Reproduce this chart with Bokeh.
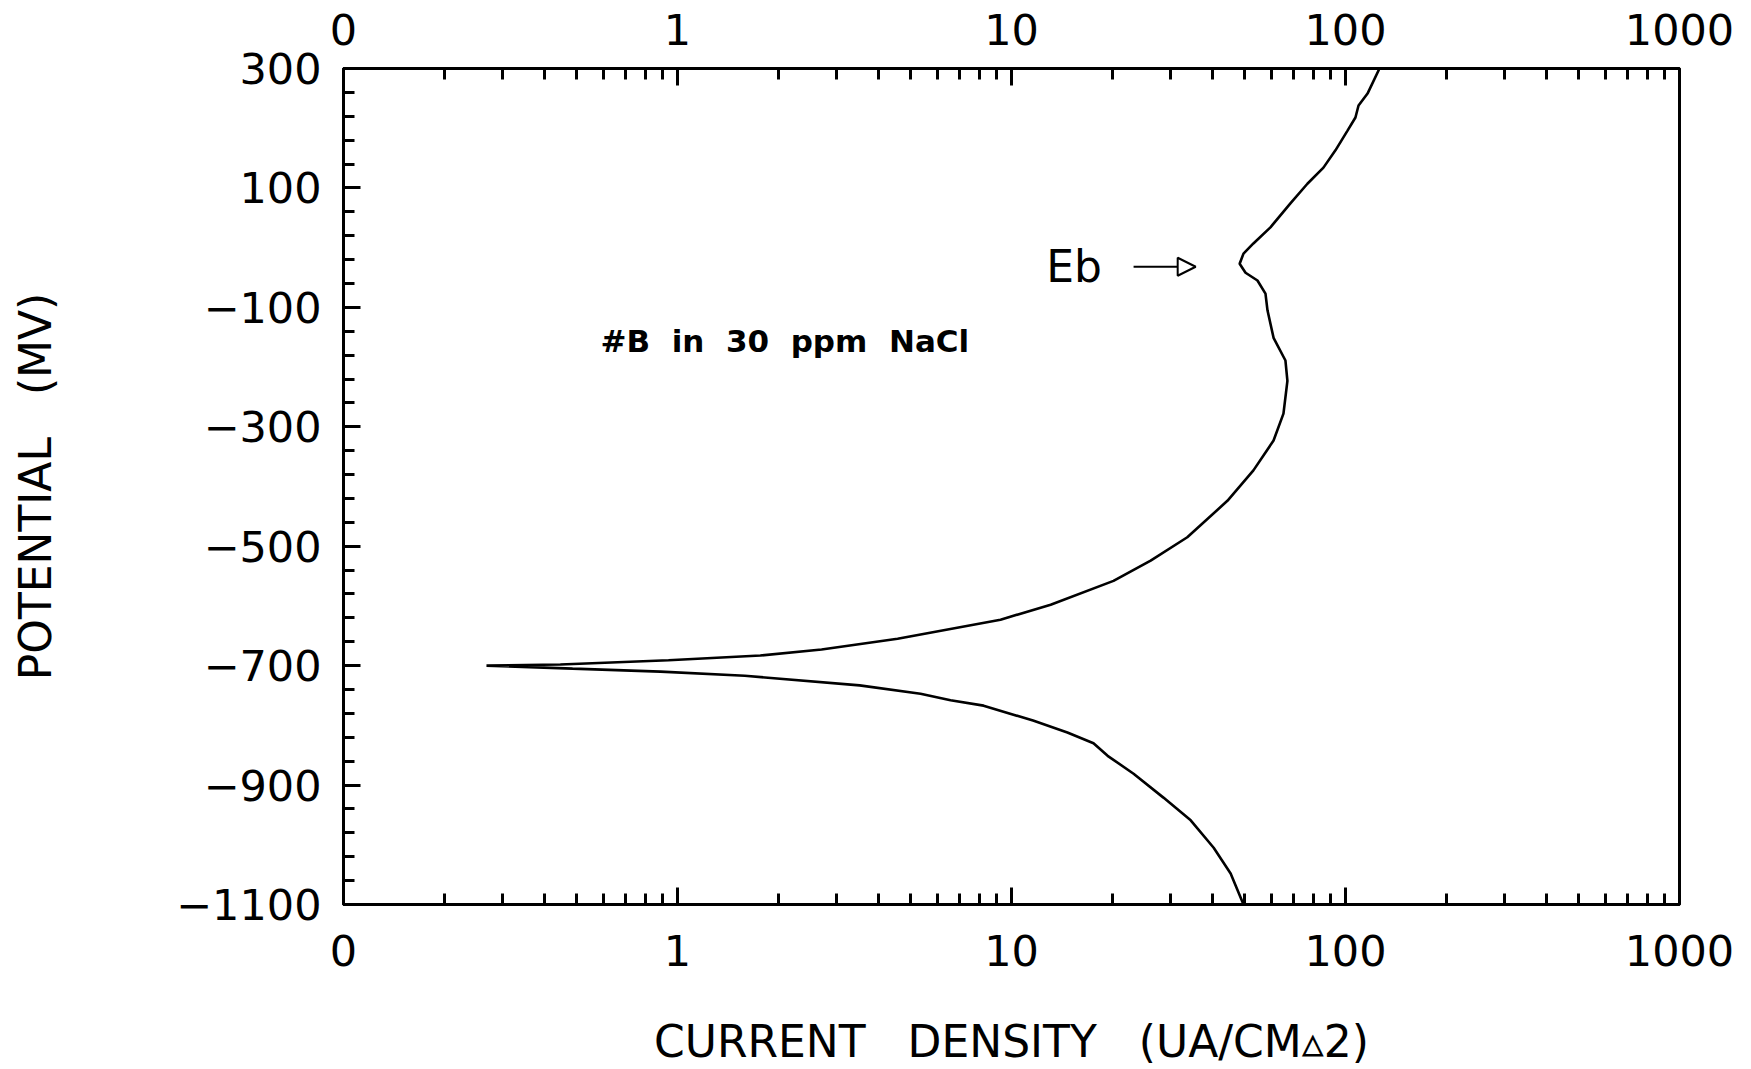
from bokeh.plotting import figure
from bokeh.models import FixedTicker, LogAxis, Label, Arrow, NormalHead, Range1d
from bokeh.embed import file_html
from bokeh.resources import INLINE

# Polarization scan: potential (mV) vs current density (uA/cm^2), cathodic end first
potential_mv = [
    -1100, -1048, -1005, -959, -921, -881, -851, -830, -812, -792, -767, -758,
    -747, -733, -717, -710, -705, -700,
    -698, -691, -683, -673, -655, -623, -598, -558, -524, -485, -424, -373,
    -323, -278, -223, -189, -151, -105, -77, -55, -42, -27, -10, 7, 34, 74,
    107, 134, 163, 196, 218, 238, 258, 300,
]
current_density = [
    49.5, 45.3, 40.3, 34.4, 28.5, 23.2, 19.4, 17.6, 14.7, 11.6, 8.25, 6.57,
    5.34, 3.51, 1.59, 0.889, 0.485, 0.268,
    0.446, 0.94, 1.77, 2.70, 4.56, 9.27, 13.1, 20.2, 26.1, 33.6, 44.3, 53.0,
    60.9, 65.2, 67.0, 66.1, 60.9, 58.4, 57.6, 54.5, 50.2, 48.2, 49.5, 53.0,
    59.6, 68.4, 76.9, 85.9, 93.3, 101.4, 107.1, 109.4, 116.4, 126.4,
]

x_ticks = [0.1, 1, 10, 100, 1000]
x_tick_labels = ["0", "1", "10", "100", "1000"]
y_ticks = [-1100, -900, -700, -500, -300, -100, 100, 300]
y_tick_labels = ["\u22121100", "\u2212900", "\u2212700", "\u2212500",
                 "\u2212300", "\u2212100", "100", "300"]

x_minor = [m * 10.0 ** d for d in (-1, 0, 1, 2) for m in range(2, 10)]
y_minor = list(range(-1100, 301, 40))

FONT = "DejaVu Sans"
GAP3 = "\u00a0\u00a0\u00a0"
GAP2 = "\u00a0\u00a0"

p = figure(
    width=1751, height=1069,
    x_axis_type="log",
    x_range=Range1d(0.1, 1000), y_range=Range1d(-1100, 300),
    output_backend="svg", toolbar_location=None,
    min_border_left=343, min_border_right=72,
    min_border_top=68, min_border_bottom=165,
)
p.background_fill_color = "white"
p.border_fill_color = "white"
p.outline_line_color = "black"
p.outline_line_width = 3
p.xgrid.visible = False
p.ygrid.visible = False


def style_axis(ax, ticks, minor, labels, standoff):
    ax.ticker = FixedTicker(ticks=ticks, minor_ticks=minor)
    ax.major_label_overrides = dict(zip(ticks, labels))
    ax.major_label_text_font = FONT
    ax.major_label_text_font_size = "43px"
    ax.major_label_text_color = "black"
    ax.major_label_standoff = standoff
    ax.major_tick_in = 17
    ax.major_tick_out = 0
    ax.minor_tick_in = 11
    ax.minor_tick_out = 0
    ax.major_tick_line_width = 3
    ax.minor_tick_line_width = 3
    ax.major_tick_line_color = "black"
    ax.minor_tick_line_color = "black"
    ax.axis_line_color = "black"
    ax.axis_line_width = 3
    ax.axis_label_text_font = FONT
    ax.axis_label_text_font_size = "44px"
    ax.axis_label_text_font_style = "normal"
    ax.axis_label_text_color = "black"


xb = p.xaxis[0]
style_axis(xb, x_ticks, x_minor, x_tick_labels, 30)
xb.axis_label = "CURRENT" + GAP3 + "DENSITY" + GAP3 + "(UA/CM\u25b52)"
xb.axis_label_standoff = 47

yl = p.yaxis[0]
style_axis(yl, y_ticks, y_minor, y_tick_labels, 22)
yl.axis_label = "POTENTIAL" + GAP3 + "(MV)"
yl.axis_label_standoff = 112

xt = LogAxis()
style_axis(xt, x_ticks, x_minor, x_tick_labels, 24)
p.add_layout(xt, "above")

p.line(current_density, potential_mv, line_color="black", line_width=2.6)

p.add_layout(Label(x=0.588, y=-157,
                   text="#B" + GAP2 + "in" + GAP2 + "30" + GAP2 + "ppm" + GAP2 + "NaCl",
                   text_font=FONT, text_font_size="31px", text_font_style="bold",
                   text_baseline="middle", text_align="left", text_color="black"))
p.add_layout(Label(x=12.7, y=-32, text="Eb",
                   text_font=FONT, text_font_size="44px",
                   text_baseline="middle", text_align="left", text_color="black"))
p.add_layout(Arrow(end=NormalHead(size=18, fill_color="white", line_color="black",
                                  line_width=2),
                   x_start=23.2, y_start=-32, x_end=35.6, y_end=-32,
                   line_color="black", line_width=2))

open("out.html", "w").write(file_html(p, INLINE))
